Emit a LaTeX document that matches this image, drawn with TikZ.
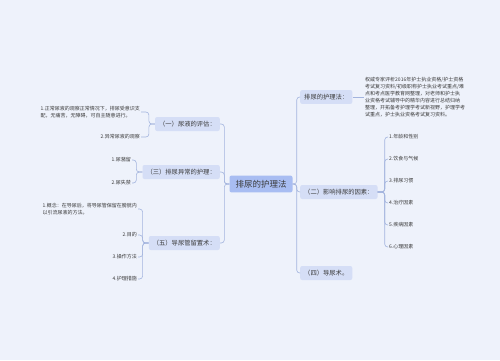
\documentclass[tikz,border=0pt]{standalone}
\usepackage{fontspec}
\setmainfont{Noto Sans CJK SC}
\usepackage{xcolor}
\usepackage{tikz}
\usetikzlibrary{positioning}

\definecolor{bgcol}{HTML}{EEF2FB}
\definecolor{rootfill}{HTML}{A8BDF2}
\definecolor{subfill}{HTML}{D5DEF6}
\definecolor{linecol}{HTML}{A3B4DE}
\definecolor{txtcol}{HTML}{3A3A3A}

\begin{document}
\begin{tikzpicture}[
    x=1pt, y=-1pt,
    root/.style={rectangle, rounded corners=2pt, fill=rootfill, text=txtcol,
                 font=\fontsize{8.5}{10}\selectfont, inner xsep=6pt, inner ysep=4.5pt},
    sub/.style={rectangle, rounded corners=2pt, fill=subfill, text=txtcol,
                font=\fontsize{6.3}{7.5}\selectfont, inner xsep=4pt, inner ysep=4pt},
    leaf/.style={inner sep=1pt, text=txtcol, align=left,
                 font=\fontsize{5}{7}\selectfont},
    link/.style={draw=linecol, line width=0.6pt, rounded corners=3pt}
]
\fill[bgcol] (0,0) rectangle (500,360);
\useasboundingbox (0,0) rectangle (500,360);

% Centre
\node[root] (root) at (261,184) {排尿的护理法};

% Left — branches
\node[sub, anchor=east] (n1) at (220,124) {（一）尿液的评估：};
\node[sub, anchor=east] (n3) at (220,172) {（三）排尿异常的护理：};
\node[sub, anchor=east] (n5) at (220,243) {（五）导尿管留置术：};
\draw[link] (root.west) -- ++(-5,0) |- (n1.east);
\draw[link] (root.west) -- ++(-5,0) |- (n3.east);
\draw[link] (root.west) -- ++(-5,0) |- (n5.east);

% Left — leaves
\node[leaf, anchor=east] (a1) at (141,112)
      {1.正常尿液的观察正常情况下，排尿受意识支\\配，无痛苦，无障碍，可自主随意进行。};
\node[leaf, anchor=east] (a2) at (141,137) {2.异常尿液的观察};
\draw[link] (n1.west) -- ++(-6,0) |- (a1.east);
\draw[link] (n1.west) -- ++(-6,0) |- (a2.east);

\node[leaf, anchor=east] (b1) at (132,160) {1.尿潴留};
\node[leaf, below=23pt of b1.east, anchor=east] (b2) {2.尿失禁};
\draw[link] (n3.west) -- ++(-6,0) |- (b1.east);
\draw[link] (n3.west) -- ++(-6,0) |- (b2.east);

\node[leaf, anchor=east] (c1) at (138,209)
      {1.概念：在导尿后，将导尿管保留在膀胱内\\以引流尿液的方法。};
\node[leaf, below=26pt of c1.east, anchor=east] (c2) {2.目的};
\node[leaf, below=22pt of c2.east, anchor=east] (c3) {3.操作方法};
\node[leaf, below=22pt of c3.east, anchor=east] (c4) {4.护理措施};
\foreach \k in {c1,c2,c3,c4}
  \draw[link] (n5.west) -- ++(-6,0) |- (\k.east);

% Right — branches
\node[sub, anchor=west] (n0) at (300,97) {排尿的护理法：};
\node[sub, anchor=west] (n2) at (300,192) {（二）影响排尿的因素：};
\node[sub, anchor=west] (n4) at (300,273) {（四）导尿术。};
\draw[link] (root.east) -- ++(4,0) |- (n0.west);
\draw[link] (root.east) -- ++(4,0) |- (n2.west);
\draw[link] (root.east) -- ++(4,0) |- (n4.west);

% Right — leaves
\node[leaf, anchor=west] (rb) at (364,97)
      {权威专家评析2016年护士执业资格/护士资格\\
       考试复习资料/初级职称护士执业考试重点/难\\
       点和考点医学教育网整理，对老师和护士执\\
       业资格考试辅导中的精华内容进行总结归纳\\
       整理，开拓备考护理学考试新视野，护理学考\\
       试重点，护士执业资格考试复习资料。};
\draw[link] (n0.east) -- (rb.west);

\node[leaf, anchor=west] (d1) at (388,137) {1.年龄和性别};
\node[leaf, below=22pt of d1.west, anchor=west] (d2) {2.饮食与气候};
\node[leaf, below=22pt of d2.west, anchor=west] (d3) {3.排尿习惯};
\node[leaf, below=22pt of d3.west, anchor=west] (d4) {4.治疗因素};
\node[leaf, below=22pt of d4.west, anchor=west] (d5) {5.疾病因素};
\node[leaf, below=22pt of d5.west, anchor=west] (d6) {6.心理因素};
\foreach \k in {d1,d2,d3,d4,d5,d6}
  \draw[link] (n2.east) -- ++(7,0) |- (\k.west);
\end{tikzpicture}
\end{document}
